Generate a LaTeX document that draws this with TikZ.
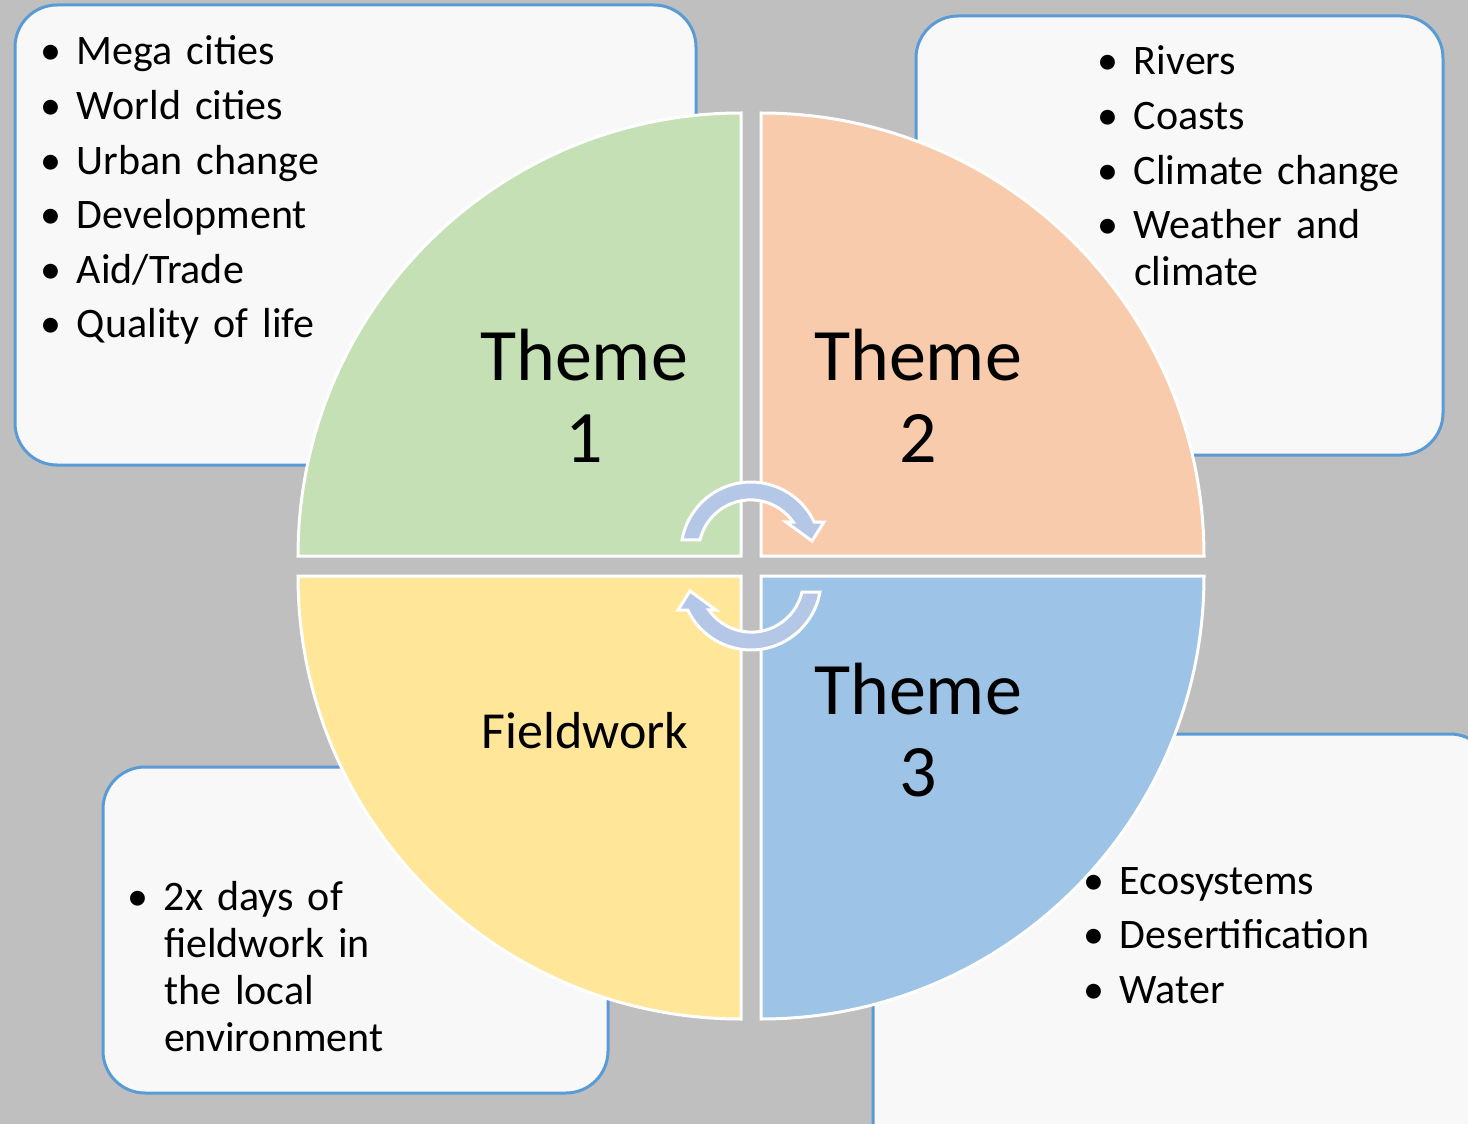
\documentclass[tikz,border=0pt]{standalone}
\usepackage{fontspec}
\setmainfont{Carlito}
\definecolor{slidegrey}{HTML}{BFBFBF}
\definecolor{panelfill}{HTML}{F8F8F8}
\definecolor{panelblue}{HTML}{5B9BD5}
\definecolor{themegreen}{HTML}{C5E0B4}
\definecolor{themepeach}{HTML}{F8CBAD}
\definecolor{themeyellow}{HTML}{FFE699}
\definecolor{themeblue}{HTML}{9DC3E6}
\definecolor{arrowblue}{HTML}{B4C7E7}
\newcommand{\listsize}{\fontsize{42}{47}\selectfont}
\newcommand{\themesize}{\fontsize{74}{82}\selectfont}
\newcommand{\bulletgap}{37pt}
\newcommand{\bitem}[1]{\parskip=7.6pt\hangindent=\bulletgap\hangafter=1\noindent\makebox[\bulletgap][l]{\textbullet}#1\par}
% half-ring arrow, drawn once and turned for the lower one
\newcommand{\cyclearrow}{(700,540) arc[start angle=193.2, end angle=325, radius=52]
    -- (786,522) -- (812,541) -- (824,522) -- (814.2,522)
    arc[start angle=334.6, end angle=190, radius=70] -- cycle}
\tikzstyle{panel}=[draw=panelblue, fill=panelfill, line width=3pt, rounded corners=42pt]
\tikzstyle{quarter}=[draw=white, line width=3pt]
\tikzstyle{ringarrow}=[draw=white, fill=arrowblue, line width=3pt]
\tikzstyle{bullets}=[anchor=base west, inner sep=0, outer sep=0, text width=600pt, align=left, font=\listsize]
\tikzstyle{themetext}=[anchor=base, inner sep=0, outer sep=0, align=center, font=\themesize]

\begin{document}
\begin{tikzpicture}[x=1pt, y=-1pt]
    \fill[slidegrey] (0,0) rectangle (1468,1124);
    \useasboundingbox (0,0) rectangle (1468,1124);
    \clip (0,0) rectangle (1468,1124);

    % text panels
    \draw[panel] (15,5) rectangle (696,465);
    \draw[panel] (916,16) rectangle (1443,455);
    \draw[panel] (873,734) rectangle (1492,1170);
    \draw[panel] (103,767) rectangle (608,1093);

    % the four quarters
    \draw[quarter, fill=themegreen] (741,556) -- (298,556) arc[start angle=180, end angle=270, radius=443] -- cycle;
    \draw[quarter, fill=themepeach] (761,556) -- (761,113) arc[start angle=270, end angle=360, radius=443] -- cycle;
    \draw[quarter, fill=themeblue] (761,576) -- (1204,576) arc[start angle=0, end angle=90, radius=443] -- cycle;
    \draw[quarter, fill=themeyellow] (741,576) -- (741,1019) arc[start angle=90, end angle=180, radius=443] -- cycle;

    \draw[ringarrow] \cyclearrow;
    \begin{scope}[rotate around={180:(751,566)}]
        \draw[ringarrow] \cyclearrow;
    \end{scope}

    % base is the second line here
    \node[themetext] (theme1) at (584,462) {Theme\\1};
    \node[themetext] (theme2) at (918,462) {Theme\\2};
    \node[themetext] (theme3) at (918,796) {Theme\\3};
    \node[anchor=base, inner sep=0, font=\fontsize{52}{60}\selectfont] (field) at (585,748) {Fieldwork};

    \node[bullets] (list1) at (40,65) {\bitem{Mega cities}\bitem{World cities}\bitem{Urban change}\bitem{Development}\bitem{Aid/Trade}\bitem{Quality of life}};
    \node[bullets] (list2) at (1097,75) {\bitem{Rivers}\bitem{Coasts}\bitem{Climate change}\bitem{Weather and\newline climate}};
    \node[bullets] (list3) at (1083,894) {\bitem{Ecosystems}\bitem{Desertification}\bitem{Water}};
    \node[bullets] (list4) at (127,910) {\bitem{2x days of\newline fieldwork in\newline the local\newline environment}};
\end{tikzpicture}
\end{document}
